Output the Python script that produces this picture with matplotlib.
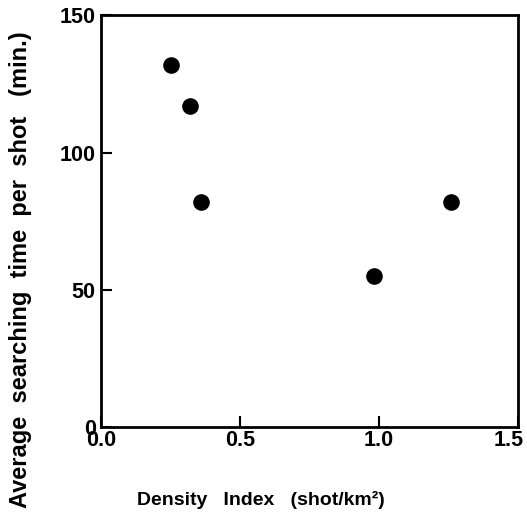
import matplotlib.pyplot as plt
from matplotlib.transforms import ScaledTranslation

# data
density = [0.25, 0.32, 0.36, 0.98, 1.26]
search_time = [132, 117, 82, 55, 82]

plt.rcParams['font.family'] = ['Liberation Sans', 'DejaVu Sans']
plt.rcParams['font.weight'] = 'bold'

fig = plt.figure(figsize=(5.27, 5.26), dpi=100)
ax = fig.add_axes([0.192, 0.188, 0.791, 0.783])

ax.scatter(density, search_time, s=120, color='black', zorder=3)

ax.set_xlim(0, 1.5)
ax.set_ylim(0, 150)
ax.set_xticks([0.0, 0.5, 1.0, 1.5])
ax.set_xticklabels(['0.0', '0.5', '1.0', '1.5'])
ax.set_yticks([0, 50, 100, 150])

for s in ax.spines.values():
    s.set_linewidth(2)
ax.tick_params(direction='in', length=8, width=1.5, labelsize=15.5)
ax.tick_params(axis='y', pad=4)
ax.tick_params(axis='x', pad=2)

# last x label sits a little left so it stays on the page
lab = ax.get_xticklabels()[-1]
lab.set_transform(lab.get_transform() + ScaledTranslation(-9/100, 0, fig.dpi_scale_trans))

fig.text(0.495, 0.049, 'Density   Index   (shot/km²)', fontsize=14, fontweight='bold',
         ha='center', va='center')
fig.text(0.038, 0.487, 'Average  searching  time  per  shot   (min.)', fontsize=17,
         fontweight='bold', rotation=90, ha='center', va='center')

fig.savefig('out.png', dpi=100)
